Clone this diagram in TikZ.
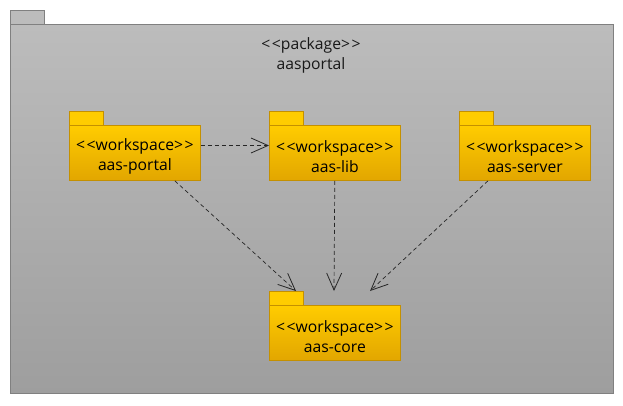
\documentclass[tikz,border=0pt]{standalone}
\usepackage{fontspec}
\setmainfont{Open Sans}
\usetikzlibrary{arrows.meta}
\definecolor{pkgline}{HTML}{808080}
\definecolor{pkgtop}{HTML}{BCBCBC}
\definecolor{pkgbot}{HTML}{9E9E9E}
\definecolor{wstop}{HTML}{FFCC00}
\definecolor{wsbot}{HTML}{E2A600}
\definecolor{wsline}{HTML}{C49000}
\newcommand{\ltlt}{<\hspace{1.5pt}<}
\newcommand{\gtgt}{>\hspace{1.5pt}>}
\tikzset{
  pkgbody/.style={draw=pkgline, line width=1pt, top color=pkgtop, bottom color=pkgbot, minimum width=603pt, minimum height=369pt, anchor=north west, inner sep=0pt},
  pkgtab/.style={draw=pkgline, line width=1pt, fill=pkgtop, minimum width=34pt, minimum height=14pt, anchor=north west, inner sep=0pt},
  wsbody/.style={draw=wsline, line width=0.8pt, top color=wstop, bottom color=wsbot, minimum width=131pt, minimum height=55pt, anchor=north west, inner sep=0pt},
  wstab/.style={draw=wsline, line width=0.8pt, fill=wstop, minimum width=34pt, minimum height=14pt, anchor=north west, inner sep=0pt},
  wslbl/.style={align=center, inner sep=0pt, font=\fontsize{15.7}{19.5}\selectfont, text=black},
  dep/.style={draw=black!85, line width=0.7pt, dash pattern=on 4pt off 3pt, -{Straight Barb[length=17pt,width=15pt,line width=0.8pt]}},
  lbl/.style={font=\fontsize{15.7}{19.5}\selectfont, text=black!90, align=center, inner sep=0pt}
}
\begin{document}
\begin{tikzpicture}[x=1pt,y=-1pt]
\useasboundingbox (0,0) rectangle (623,405);
\node[pkgtab] (ptab) at (10,10) {};
\node[pkgbody] (pkg) at (10,24) {};
\node[lbl] (ptitle) at (311,55.5) {\ltlt package\gtgt\\aasportal};

\node[wstab] (t1) at (69,111) {};
\node[wsbody] (portal) at (69,125) {};
\node[wslbl] (portalt) at ([yshift=-3.5pt]portal.center) {\ltlt workspace\gtgt\\aas-portal};
\node[wstab] (t2) at (269,111) {};
\node[wsbody] (lib) at (269,125) {};
\node[wslbl] (libt) at ([yshift=-3.5pt]lib.center) {\ltlt workspace\gtgt\\aas-lib};
\node[wstab] (t3) at (459,111) {};
\node[wsbody] (server) at (459,125) {};
\node[wslbl] (servert) at ([yshift=-3.5pt]server.center) {\ltlt workspace\gtgt\\aas-server};
\node[wstab] (t4) at (269,291) {};
\node[wsbody] (core) at (269,305) {};
\node[wslbl] (coret) at ([yshift=-3.5pt]core.center) {\ltlt workspace\gtgt\\aas-core};

\draw[dep] (portal.east |- 0,145.5) -- (lib.west |- 0,145.5);
\draw[dep] ([xshift=-26pt]portal.south east) -- ([xshift=27pt]t4.north west);
\draw[dep] ([xshift=-66pt]lib.south east) -- ([xshift=65pt]t4.north west);
\draw[dep] ([xshift=29pt]server.south west) -- ([xshift=101pt]t4.north west);
\end{tikzpicture}
\end{document}
